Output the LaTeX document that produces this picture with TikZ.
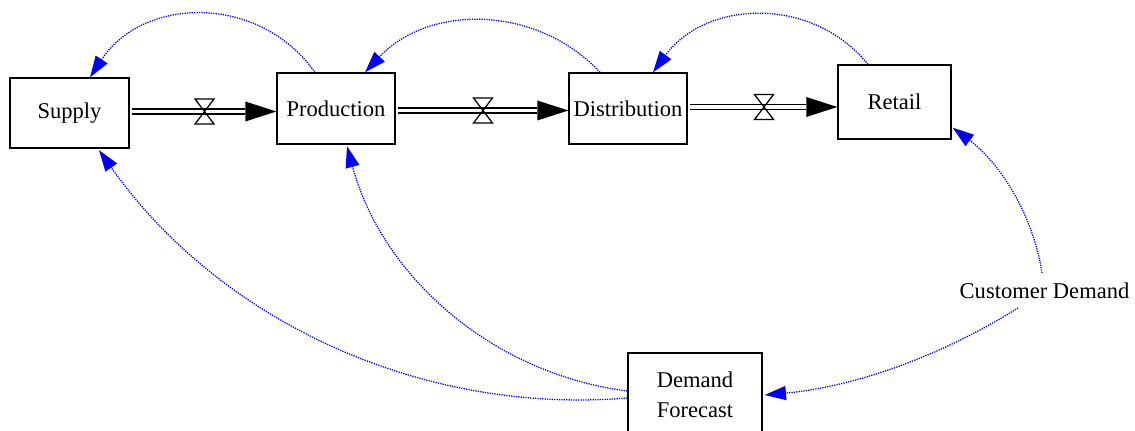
\documentclass[tikz,border=0pt]{standalone}
\usepackage{fontspec}
\setmainfont{Liberation Serif}
\usetikzlibrary{arrows.meta,calc}
\begin{document}
\begin{tikzpicture}[x=0.75pt,y=-0.75pt,
  label text/.style={font=\rmfamily\fontsize{16.9}{22.5}\selectfont},
  stock/.style={draw=black,line width=1pt,fill=white,inner sep=0pt,align=center,label text},
  pipe/.style={draw=black,line width=1.1pt,double=white,double distance=2.9pt},
  link/.style={draw=blue,line width=0.95pt,dash pattern=on 0.95pt off 0.85pt,
    -{Triangle[length=16pt,width=10.5pt,fill=blue]}},
  valve/.pic={\draw[line width=0.95pt] (-9.5,-12.5) -- (9.5,-12.5) -- (-9.5,12.5) -- (9.5,12.5) -- cycle;}
]
\useasboundingbox (0,0) rectangle (1135,431);
\clip (0,0) rectangle (1135,431);

% stocks
\node[stock,minimum width=89.25pt,minimum height=52.5pt] (Supply) at (69.5,113) {Supply};
\node[stock,minimum width=88.5pt,minimum height=53.25pt] (Production) at (336,108.5) {Production};
\node[stock,minimum width=88.5pt,minimum height=53.25pt] (Distribution) at (628,108.5) {Distribution};
\node[stock,minimum width=84.75pt,minimum height=55.5pt] (Retail) at (894.5,102) {Retail};
\node[stock,minimum width=100.5pt,minimum height=63pt] (Forecast) at (695,395) {Demand\\Forecast};
\node[label text,inner sep=0pt] (Customer) at (1044.5,291) {Customer Demand};

% material flows with valves
\coordinate (v1) at (204.5,111.5);
\coordinate (v2) at (483,110.5);
\coordinate (v3) at (764,107);

\draw[pipe] ($(Supply.east |- v1)+(2,0)$) -- ($(Production.west |- v1)+(-31,0)$);
\fill (Production.west |- v1) -- ++(-31,-10) -- ++(0,20) -- cycle;
\pic at (v1) {valve};

\draw[pipe] ($(Production.east |- v2)+(2,0)$) -- ($(Distribution.west |- v2)+(-31,0)$);
\fill (Distribution.west |- v2) -- ++(-31,-10) -- ++(0,20) -- cycle;
\pic at (v2) {valve};

\draw[pipe] ($(Distribution.east |- v3)+(2,0)$) -- ($(Retail.west |- v3)+(-31,0)$);
\fill (Retail.west |- v3) -- ++(-31,-10) -- ++(0,20) -- cycle;
\pic at (v3) {valve};

% information links
\draw[link] ($(Production.north)+(-21,0)$) .. controls +(-56,-79) and +(53,-81) .. ($(Supply.north)+(20.5,0)$);
\draw[link] ($(Distribution.north)+(-28,0)$) .. controls +(-63.5,-68) and +(63.5,-68) .. ($(Production.north)+(29,0)$);
\draw[link] ($(Retail.north)+(-26.5,0)$) .. controls +(-56.2,-69.3) and +(52.5,-72.1) .. ($(Distribution.north)+(25,0)$);

\draw[link] ($(Forecast.west)+(0,3)$) .. controls +(-207.6,17) and +(120,170) .. ($(Supply.south)+(29.5,1.5)$);
\draw[link] ($(Forecast.west)+(0,-4)$) .. controls +(-134.6,-17.2) and +(35.4,131) .. ($(Production.south)+(11,1.5)$);

\draw[link] ($(Customer.center)+(-2.5,-18)$) .. controls +(-9,-58.6) and +(47.4,35.5) .. ($(Retail.south east)+(1,-12)$);
\draw[link] ($(Customer.center)+(-26.5,17)$) .. controls +(-77.1,48.1) and +(90.3,-8.2) .. ($(Forecast.east)+(2,0)$);
\end{tikzpicture}
\end{document}
